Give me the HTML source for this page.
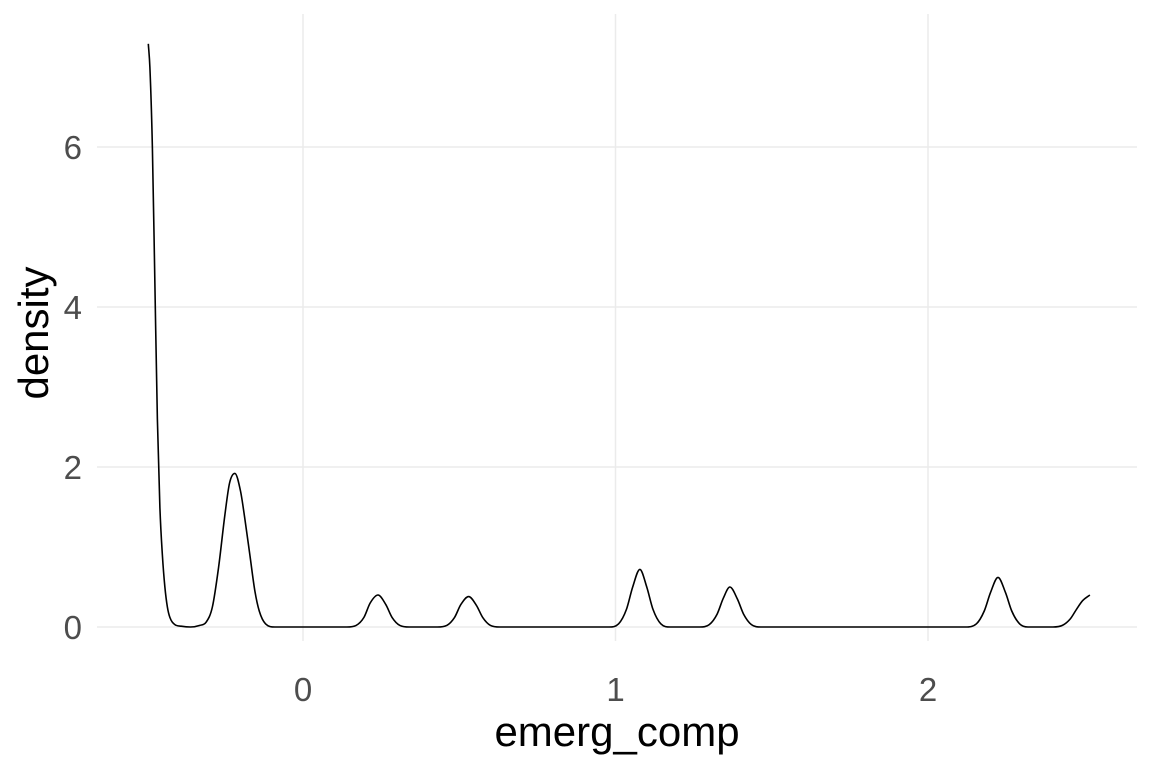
<!DOCTYPE html>
<html><head><meta charset="utf-8"><style>
body{margin:0;background:#fff}
svg{display:block;font-family:"Liberation Sans",Arial,sans-serif}
</style></head><body>
<svg id="chart" width="1152" height="768">
<g id="grid"></g>
<g id="ticks"></g>
<path id="curve" fill="none" stroke="#000" stroke-width="1.6"/>
<text x="617" y="746" text-anchor="middle" font-size="42" fill="#000">emerg_comp</text>
<text transform="translate(48,333) rotate(-90)" text-anchor="middle" font-size="42" fill="#000">density</text>
</svg>
<script>
const xTicks=[0,1,2];
const yTicks=[0,2,4,6];
const xVals=[-0.495,-0.49,-0.482,-0.474,-0.466,-0.458,-0.45,-0.442,-0.434,-0.426,-0.41,-0.39,-0.36,-0.33,-0.31,-0.29,-0.27,-0.25,-0.235,-0.218,-0.2,-0.186,-0.17,-0.154,-0.14,-0.12,-0.09,0.14,0.17,0.195,0.215,0.24,0.265,0.285,0.31,0.34,0.43,0.46,0.485,0.505,0.53,0.555,0.575,0.6,0.63,0.98,1.01,1.035,1.055,1.078,1.1,1.12,1.145,1.175,1.27,1.3,1.325,1.345,1.366,1.39,1.41,1.435,1.465,2.12,2.155,2.18,2.2,2.224,2.248,2.268,2.293,2.32,2.4,2.43,2.455,2.475,2.495,2.518];
const yVals=[7.29,7.0,6.0,4.3,2.6,1.5,0.9,0.5,0.25,0.12,0.03,0.01,0.0,0.02,0.06,0.25,0.75,1.4,1.8,1.92,1.7,1.35,0.9,0.45,0.2,0.04,0.0,0.0,0.02,0.12,0.3,0.4,0.28,0.12,0.02,0.0,0.0,0.02,0.12,0.28,0.38,0.27,0.12,0.02,0.0,0.0,0.04,0.22,0.5,0.72,0.5,0.22,0.04,0.0,0.0,0.03,0.16,0.36,0.5,0.35,0.16,0.03,0.0,0.0,0.04,0.2,0.43,0.62,0.43,0.2,0.04,0.0,0.0,0.02,0.1,0.22,0.33,0.4];
const sx=v=>303+v*312.5, sy=v=>627-v*80;
const NS='http://www.w3.org/2000/svg';
const grid=document.getElementById('grid'), tk=document.getElementById('ticks');
function mk(tag,attrs,parent){const e=document.createElementNS(NS,tag);for(const k in attrs)e.setAttribute(k,attrs[k]);parent.appendChild(e);return e;}
yTicks.forEach(v=>{
  const l=mk('line',{x1:97,x2:1137,y1:sy(v),y2:sy(v),stroke:'#ebebeb','stroke-width':1.5},grid);
  
  
  const t=mk('text',{x:82,y:sy(v)+12,'text-anchor':'end','font-size':33,fill:'#4d4d4d'},tk);
  t.textContent=v;
  
  
});
xTicks.forEach(v=>{
  const l=mk('line',{x1:sx(v),x2:sx(v),y1:14,y2:641,stroke:'#ebebeb','stroke-width':1.5},grid);
  
  
  const t=mk('text',{x:sx(v),y:701,'text-anchor':'middle','font-size':33,fill:'#4d4d4d'},tk);
  t.textContent=v;
  
  
});
const X=xVals.map(sx), Y=yVals.map(sy), n=X.length;
const dl=[], m=new Array(n).fill(0);
for(let i=0;i<n-1;i++) dl.push((Y[i+1]-Y[i])/(X[i+1]-X[i]));
m[0]=dl[0]; m[n-1]=dl[n-2];
for(let i=1;i<n-1;i++){ m[i]=(dl[i-1]*dl[i]<=0)?0:(dl[i-1]+dl[i])/2; }
for(let i=0;i<n-1;i++){
  if(dl[i]===0){m[i]=0;m[i+1]=0;continue;}
  const a=m[i]/dl[i], b=m[i+1]/dl[i], s=a*a+b*b;
  if(s>9){const t=3/Math.sqrt(s);m[i]=t*a*dl[i];m[i+1]=t*b*dl[i];}
}
let d='M'+X[0]+','+Y[0];
for(let i=0;i<n-1;i++){
  const h=(X[i+1]-X[i])/3;
  d+=' C'+(X[i]+h)+','+(Y[i]+m[i]*h)+' '+(X[i+1]-h)+','+(Y[i+1]-m[i+1]*h)+' '+X[i+1]+','+Y[i+1];
}
document.getElementById('curve').setAttribute('d',d);
</script>
</body></html>
